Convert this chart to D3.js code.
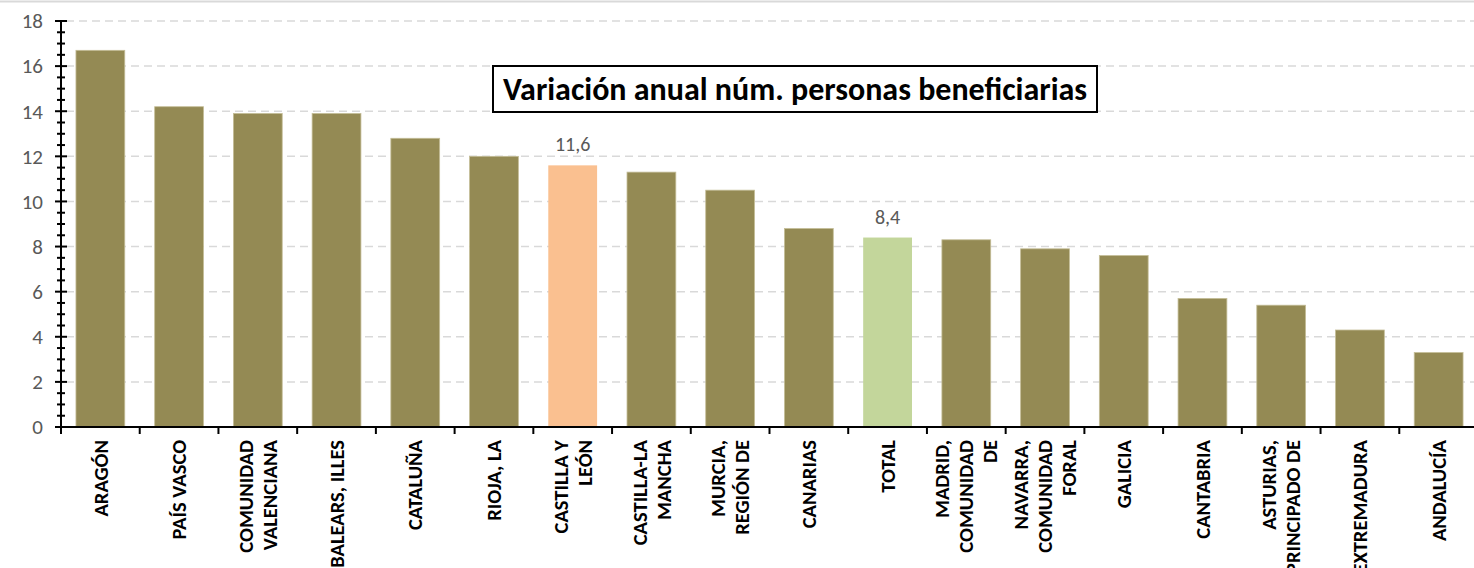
<!DOCTYPE html>
<html lang="es">
<head>
<meta charset="utf-8">
<title>Variación anual núm. personas beneficiarias</title>
<script src="https://cdn.jsdelivr.net/npm/d3@7"></script>
<style>
  body { margin: 0; background: #fff; }
  svg { display: block; font-family: Carlito, Calibri, Lato, sans-serif; }
</style>
</head>
<body>
<script>
// categories (as shown, with line breaks) and values
var regions = ["ARAGÓN", "PAÍS VASCO", "COMUNIDAD VALENCIANA", "BALEARS, ILLES", "CATALUÑA",
               "RIOJA, LA", "CASTILLA Y LEÓN", "CASTILLA-LA MANCHA", "MURCIA, REGIÓN DE", "CANARIAS",
               "TOTAL", "MADRID, COMUNIDAD DE", "NAVARRA, COMUNIDAD FORAL", "GALICIA", "CANTABRIA",
               "ASTURIAS, PRINCIPADO DE", "EXTREMADURA", "ANDALUCÍA"];
var labelLines = [["ARAGÓN"], ["PAÍS VASCO"], ["COMUNIDAD", "VALENCIANA"], ["BALEARS, ILLES"], ["CATALUÑA"],
                  ["RIOJA, LA"], ["CASTILLA Y", "LEÓN"], ["CASTILLA-LA", "MANCHA"], ["MURCIA,", "REGIÓN DE"], ["CANARIAS"],
                  ["TOTAL"], ["MADRID,", "COMUNIDAD", "DE"], ["NAVARRA,", "COMUNIDAD", "FORAL"], ["GALICIA"], ["CANTABRIA"],
                  ["ASTURIAS,", "PRINCIPADO DE"], ["EXTREMADURA"], ["ANDALUCÍA"]];
var values = [16.7, 14.2, 13.9, 13.9, 12.8, 12.0, 11.6, 11.3, 10.5, 8.8,
              8.4, 8.3, 7.9, 7.6, 5.7, 5.4, 4.3, 3.3];
var yTicks = [0, 2, 4, 6, 8, 10, 12, 14, 16, 18];
var highlight = { "CASTILLA Y LEÓN": "#FAC090", "TOTAL": "#C3D69B" };
var labelled = ["CASTILLA Y LEÓN", "TOTAL"];
var title = "Variación anual núm. personas beneficiarias";

//size and plot edges (note: "top" is taken by window.top)
var w = 1474, h = 568;
var plotLeft = 61, plotRight = 1478, plotTop = 21, plotBottom = 427;

var svg = d3.select("body").append("svg")
  .attr("width", w)
  .attr("height", h);

// faint frame line at the very top
svg.append("line")
  .attr("x1", 0).attr("x2", w).attr("y1", 1.5).attr("y2", 1.5)
  .attr("stroke", "#d9d9d9").attr("stroke-width", 2);

var x = d3.scaleBand().domain(regions).range([plotLeft, plotRight]).paddingInner(0.38).paddingOuter(0.19);
var y = d3.scaleLinear().domain([0, 18]).range([plotBottom, plotTop]);

// dashed gridlines
svg.append("g").selectAll("line")
  .data(yTicks.filter(function(d) { return d > 0; }))
  .enter().append("line")
  .attr("x1", plotLeft + 5).attr("x2", w)
  .attr("y1", function(d) { return y(d); })
  .attr("y2", function(d) { return y(d); })
  .attr("stroke", "#d9d9d9")
  .attr("stroke-width", 1.5)
  .attr("stroke-dasharray", "8,5");

// bars
svg.append("g").selectAll("rect")
  .data(values)
  .enter().append("rect")
  .attr("x", function(d, i) { return x(regions[i]); })
  .attr("y", function(d) { return y(d); })
  .attr("width", x.bandwidth())
  .attr("height", function(d) { return y(0) - y(d); })
  .attr("fill", function(d, i) { return highlight[regions[i]] || "#948A54"; })
  .attr("stroke", function(d, i) { return highlight[regions[i]] ? "none" : "#C4BD97"; })
  .attr("stroke-width", 0.8);

// value labels for highlighted bars
svg.append("g").selectAll("text")
  .data(values.map(function(v, i) { return { r: regions[i], v: v }; })
    .filter(function(d) { return labelled.indexOf(d.r) >= 0; }))
  .enter().append("text")
  .attr("x", function(d) { return x(d.r) + x.bandwidth() / 2; })
  .attr("y", function(d) { return y(d.v) - 14; })
  .attr("text-anchor", "middle")
  .attr("font-size", "20px")
  .attr("fill", "#595959")
  .text(function(d) { return d3.format(".1f")(d.v).replace(".", ","); });

// y axis: major + minor ticks
var yAxis = svg.append("g");
yAxis.append("line")
  .attr("x1", plotLeft).attr("x2", plotLeft).attr("y1", y(18)).attr("y2", y(0))
  .attr("stroke", "#000").attr("stroke-width", 2);
yAxis.selectAll("line.minor")
  .data(d3.range(0, 18.01, 0.5))
  .enter().append("line")
  .attr("class", "minor")
  .attr("x1", function(d) { return d % 2 === 0 ? plotLeft - 6 : plotLeft - 4; })
  .attr("x2", function(d) { return d % 2 === 0 ? plotLeft + 6 : plotLeft + 4; })
  .attr("y1", function(d) { return y(d); })
  .attr("y2", function(d) { return y(d); })
  .attr("stroke", "#000").attr("stroke-width", 2);
yAxis.selectAll("text")
  .data(yTicks)
  .enter().append("text")
  .attr("x", plotLeft - 18)
  .attr("y", function(d) { return y(d); })
  .attr("dy", "0.35em")
  .attr("text-anchor", "end")
  .attr("font-size", "21px")
  .attr("fill", "#595959")
  .text(function(d) { return d; });

// x axis
var xAxis = svg.append("g");
xAxis.append("line")
  .attr("x1", plotLeft).attr("x2", w).attr("y1", y(0)).attr("y2", y(0))
  .attr("stroke", "#000").attr("stroke-width", 2);
var step = x.step();
xAxis.selectAll("line.tick")
  .data(d3.range(regions.length))
  .enter().append("line")
  .attr("class", "tick")
  .attr("x1", function(i) { return x(regions[i]) - step * 0.19; })
  .attr("x2", function(i) { return x(regions[i]) - step * 0.19; })
  .attr("y1", y(0)).attr("y2", y(0) + 7)
  .attr("stroke", "#000").attr("stroke-width", 2);

var lineGap = 24;
var lbl = xAxis.selectAll("g.lbl")
  .data(labelLines)
  .enter().append("g")
  .attr("class", "lbl")
  .attr("transform", function(d, i) {
    return "translate(" + (x(regions[i]) + x.bandwidth() / 2) + "," + (y(0) + 13) + ") rotate(-90)";
  });
lbl.selectAll("text")
  .data(function(d) { return d.map(function(t, j) { return { t: t, j: j, n: d.length }; }); })
  .enter().append("text")
  .attr("x", 0)
  .attr("y", function(d) { return (d.j - (d.n - 1) / 2) * lineGap; })
  .attr("dy", "0.35em")
  .attr("text-anchor", "end")
  .attr("font-size", "20.5px")
  .attr("font-weight", "bold")
  .attr("fill", "#000")
  .text(function(d) { return d.t; });

// title box
var tg = svg.append("g");
tg.append("rect")
  .attr("x", 493).attr("y", 66).attr("width", 604).attr("height", 46)
  .attr("fill", "#fff").attr("stroke", "#000").attr("stroke-width", 2);
tg.append("text")
  .attr("x", 795).attr("y", 89)
  .attr("dy", "0.35em")
  .attr("text-anchor", "middle")
  .attr("font-size", "32px")
  .attr("font-weight", "bold")
  .attr("fill", "#000")
  .text(title);
</script>
</body>
</html>
